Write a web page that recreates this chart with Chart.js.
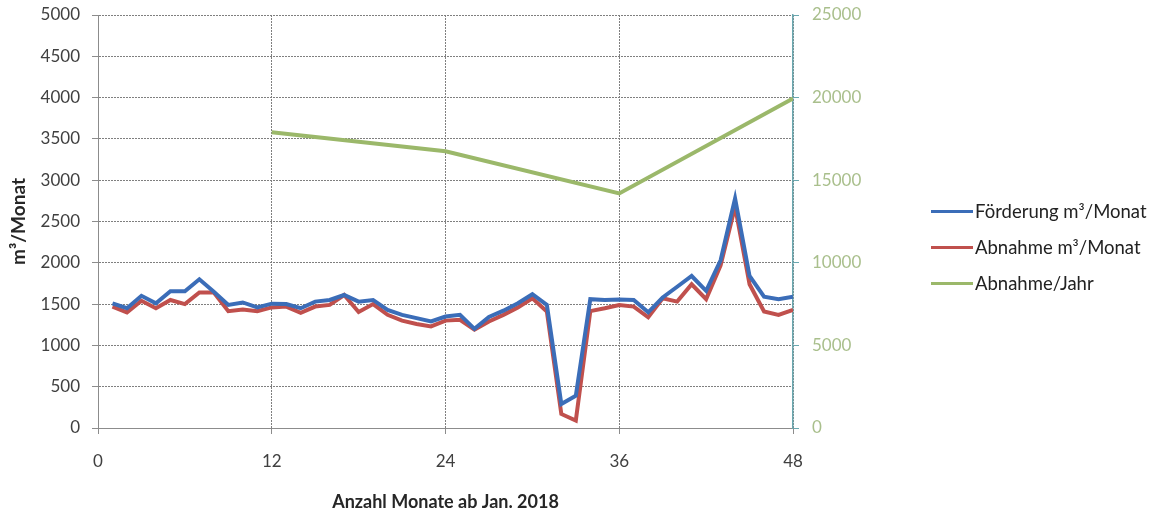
<!DOCTYPE html>
<html>
<head>
<meta charset="utf-8">
<script src="https://cdn.jsdelivr.net/npm/chart.js@4"></script>
<style>
    body { margin: 0; background: #fff; }
    #wrap { position: relative; width: 1154px; height: 513px; }
    .legend { position: absolute; left: 931px; top: 193px; font-family: Lato, sans-serif; font-size: 18.5px; color: #222; }
    .legend-item { display: flex; align-items: center; height: 36px; }
    .legend-line { width: 42px; height: 3px; margin-right: 2px; }
</style>
</head>
<body>
<div id="wrap">
    <canvas id="chart" width="1154" height="513"></canvas>
    <div class="legend" id="legend"></div>
</div>
<script>
const months = [];
for (let m = 1; m <= 48; m++) months.push(m);

const foerderung = [
    1510, 1450, 1600, 1510, 1655, 1655, 1800, 1650, 1490, 1520, 1460, 1505,
    1500, 1450, 1530, 1550, 1610, 1530, 1550, 1430, 1370, 1330, 1290, 1350,
    1370, 1200, 1345, 1420, 1510, 1620, 1490, 290, 390, 1560, 1550, 1555,
    1550, 1400, 1580, 1710, 1840, 1660, 2030, 2780, 1840, 1590, 1560, 1590
];
const abnahme = [
    1470, 1400, 1540, 1450, 1550, 1500, 1640, 1640, 1415, 1435, 1415, 1460,
    1470, 1395, 1470, 1490, 1610, 1405, 1500, 1370, 1300, 1260, 1230, 1300,
    1310, 1190, 1290, 1370, 1460, 1570, 1410, 170, 90, 1415, 1450, 1490,
    1470, 1340, 1570, 1530, 1740, 1560, 1970, 2680, 1740, 1410, 1370, 1430
];
const jahrMonate = [12, 24, 36, 48];
const abnahmeJahr = [17900, 16750, 14200, 19950];

const xTicks = [0, 12, 24, 36, 48];

const seriesNames = ['Förderung m³/Monat', 'Abnahme m³/Monat', 'Abnahme/Jahr'];
const seriesColors = ['#3b6db8', '#c0504d', '#9bb86a'];

const toPoints = (xs, ys) => xs.map((x, i) => ({ x: x, y: ys[i] }));

const gridColor = '#7f7f7f';
const tickFont = { family: 'Lato', size: 17 };
const plain = (v) => String(v);

// fixed axis width, no extra label padding above/below the plot
const fixWidth = (w) => (s) => {
    s.width = w;
    s.paddingTop = 0;
    s.paddingBottom = 0;
};

new Chart(document.getElementById('chart'), {
    type: 'line',
    data: {
        datasets: [{
            label: seriesNames[0],
            data: toPoints(months, foerderung),
            borderColor: seriesColors[0],
            yAxisID: 'y'
        }, {
            label: seriesNames[1],
            data: toPoints(months, abnahme),
            borderColor: seriesColors[1],
            yAxisID: 'y'
        }, {
            label: seriesNames[2],
            data: toPoints(jahrMonate, abnahmeJahr),
            borderColor: seriesColors[2],
            yAxisID: 'y2'
        }]
    },
    options: {
        responsive: false,
        animation: false,
        elements: {
            line: { borderWidth: 4, tension: 0 },
            point: { radius: 0 }
        },
        layout: { padding: { left: 0, right: 291, top: 15, bottom: 0 } },
        plugins: {
            legend: { display: false },
            tooltip: { enabled: false }
        },
        scales: {
            x: {
                type: 'linear',
                min: 0,
                max: 48,
                afterBuildTicks: (s) => { s.ticks = xTicks.map(v => ({ value: v })); },
                afterFit: (s) => { s.height = 85; },
                ticks: { font: tickFont, color: '#404040', padding: 17, maxRotation: 0, callback: plain },
                grid: { color: gridColor, lineWidth: 1, tickLength: 6, tickColor: '#8c8c8c' },
                border: { display: true, color: '#8c8c8c', width: 1, dash: [2, 1] },
                title: {
                    display: true,
                    text: 'Anzahl Monate ab Jan. 2018',
                    font: { family: 'Lato', size: 18, weight: 'bold' },
                    color: '#262626',
                    padding: { top: 0, bottom: 0 }
                }
            },
            y: {
                position: 'left',
                min: 0,
                max: 5000,
                afterFit: fixWidth(98),
                ticks: { stepSize: 500, font: tickFont, color: '#404040', padding: 12, callback: plain },
                grid: { color: gridColor, lineWidth: 1, tickLength: 6, tickColor: '#8c8c8c' },
                border: { display: true, color: '#8c8c8c', width: 1, dash: [2, 1] },
                title: {
                    display: true,
                    text: 'm³/Monat',
                    font: { family: 'Lato', size: 19, weight: 'bold' },
                    color: '#262626',
                    padding: { top: 7, bottom: 0 }
                }
            },
            y2: {
                position: 'right',
                min: 0,
                max: 25000,
                afterFit: fixWidth(70),
                ticks: { stepSize: 5000, font: tickFont, color: '#a9bf8c', padding: 13, callback: plain },
                grid: { drawOnChartArea: false, tickLength: 6, tickColor: '#6aa8b0' },
                border: { display: true, color: '#6aa8b0', width: 1.5 }
            }
        }
    }
});

const legend = document.getElementById('legend');
seriesNames.forEach((name, i) => {
    const item = document.createElement('div');
    item.className = 'legend-item';
    item.innerHTML = `<div class="legend-line" style="background:${seriesColors[i]}"></div><span>${name}</span>`;
    legend.appendChild(item);
});
</script>
</body>
</html>
